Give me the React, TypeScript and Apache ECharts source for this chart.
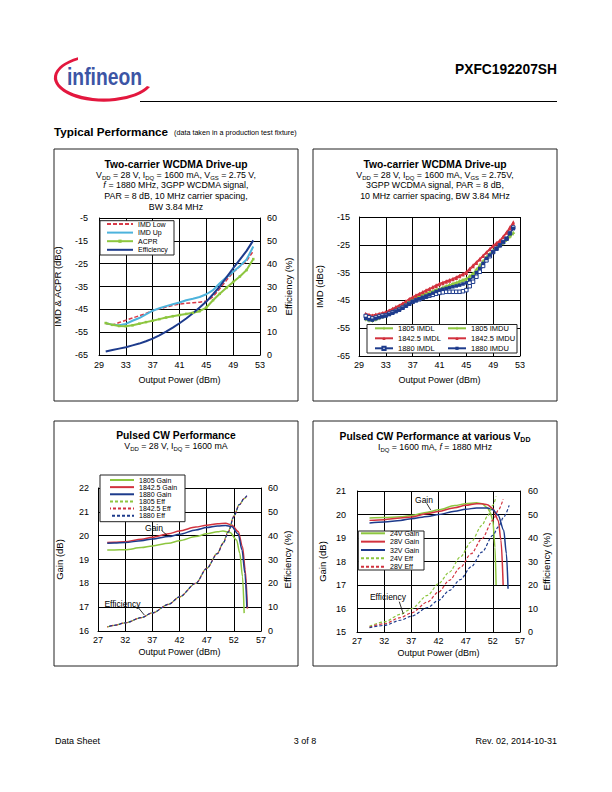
import React, { useEffect, useRef } from 'react';
import * as echarts from 'echarts';

const FONT = '"Liberation Sans", Arial, Helvetica, sans-serif';
const GREEN = '#8dc63f';
const RED = '#d2323e';
const NAVY = '#1d3b8c';
const LBLUE = '#4db3dc';

// ---------- Chart 1: Two-carrier WCDMA Drive-up ----------
const c1X = [30, 31, 32, 33, 34, 35, 36, 37, 38, 39, 40, 41, 42, 43, 44, 45, 46, 47, 48, 49, 50, 51, 52];
const c1ImdLow = [-51.2, -51.8, -50.8, -49.8, -48.8, -47.8, -46.8, -45.6, -44.8, -44.0, -43.3, -42.7, -42.3, -42.1, -41.9, -41.4, -39.5, -36.0, -32.3, -28.8, -26.2, -23.8, -19.5];
const c1ImdUp = [-51.0, -51.8, -52.0, -51.4, -50.0, -48.8, -47.2, -45.6, -44.5, -43.6, -42.8, -42.0, -41.0, -40.4, -39.6, -38.4, -36.6, -33.6, -31.0, -28.5, -26.0, -23.2, -17.5];
const c1Acpr = [-51.0, -51.8, -52.3, -52.4, -52.0, -51.3, -50.6, -50.0, -49.3, -48.6, -48.0, -47.5, -47.0, -46.5, -45.8, -44.2, -41.0, -38.2, -35.6, -33.0, -30.6, -27.8, -23.0];
const c1Eff = [1.5, 2.2, 2.8, 3.4, 4.2, 5.0, 6.0, 7.2, 8.6, 10.2, 12.0, 13.9, 16.0, 18.3, 20.8, 23.4, 26.6, 30.0, 34.0, 38.0, 41.8, 45.6, 50.2];

// ---------- Chart 2: IMD vs frequency ----------
const c2X = [30, 30.5, 31, 31.5, 32, 32.5, 33, 33.5, 34, 34.5, 35, 35.5, 36, 36.5, 37, 37.5, 38, 38.5, 39, 39.5, 40, 40.5, 41, 41.5, 42, 42.5, 43, 43.5, 44, 44.5, 45, 45.5, 46, 46.5, 47, 47.5, 48, 48.5, 49, 49.5, 50, 50.5, 51, 51.5, 52];
const c2Imdl1805 = [-51.5, -51.9, -52.1, -51.7, -51.2, -50.8, -50.3, -49.6, -48.9, -48.2, -47.5, -46.7, -45.9, -45.1, -44.3, -43.8, -43.4, -42.9, -42.5, -42.0, -41.6, -41.1, -40.7, -40.3, -39.8, -39.4, -38.9, -38.5, -38.0, -37.6, -37.1, -36.2, -35.3, -33.8, -32.3, -30.8, -29.4, -28.2, -27.0, -26.1, -25.2, -24.1, -23.1, -21.9, -20.7];
const c2Imdu1805 = [-51.9, -52.3, -52.4, -52.0, -51.5, -51.0, -50.5, -49.8, -49.1, -48.4, -47.7, -46.9, -46.0, -45.2, -44.5, -44.0, -43.5, -43.0, -42.6, -42.2, -41.8, -41.4, -41.0, -40.6, -40.2, -39.8, -39.4, -39.0, -38.6, -38.1, -37.6, -36.7, -35.7, -34.3, -32.8, -31.3, -29.9, -28.6, -27.4, -26.5, -25.6, -24.5, -23.4, -22.2, -21.0];
const c2Imdl1842 = [-49.7, -50.1, -50.3, -50.0, -49.7, -49.4, -49.1, -48.5, -47.9, -47.3, -46.7, -46.0, -45.2, -44.4, -43.7, -43.1, -42.5, -41.9, -41.3, -40.7, -40.1, -39.5, -38.9, -38.5, -38.0, -37.6, -37.1, -36.6, -36.0, -35.4, -34.7, -33.5, -32.3, -31.2, -30.0, -28.8, -27.6, -26.4, -25.2, -24.3, -23.4, -21.9, -20.4, -18.6, -16.8];
const c2Imdu1842 = [-50.2, -50.6, -50.8, -50.5, -50.1, -49.8, -49.4, -48.8, -48.1, -47.5, -46.9, -46.2, -45.4, -44.6, -44.0, -43.4, -42.8, -42.2, -41.6, -41.0, -40.4, -39.9, -39.3, -38.9, -38.4, -38.0, -37.5, -37.0, -36.4, -35.8, -35.2, -34.0, -32.8, -31.6, -30.4, -29.1, -27.9, -26.7, -25.6, -24.7, -23.8, -22.3, -20.8, -19.2, -17.4];
const c2Imdl1880 = [-50.6, -51.1, -51.5, -51.2, -50.8, -50.5, -50.3, -49.8, -49.3, -48.8, -48.3, -47.6, -46.9, -46.2, -45.5, -45.0, -44.6, -44.1, -43.7, -43.3, -43.0, -42.6, -42.3, -42.1, -41.9, -41.9, -41.9, -41.9, -41.9, -41.7, -41.3, -39.9, -38.3, -36.5, -34.7, -32.6, -30.6, -29.1, -27.6, -26.4, -25.2, -24.0, -22.8, -20.8, -18.8];
const c2Imdu1880 = [-51.5, -51.9, -52.1, -51.6, -51.2, -50.9, -50.6, -50.1, -49.6, -49.0, -48.5, -47.8, -47.0, -46.3, -45.5, -45.0, -44.5, -44.0, -43.5, -43.0, -42.4, -41.8, -41.3, -41.0, -40.7, -40.4, -40.1, -39.8, -39.5, -39.1, -38.7, -37.6, -36.5, -35.0, -33.5, -31.7, -29.9, -28.7, -27.6, -26.4, -25.2, -24.0, -22.8, -21.0, -19.2];

// ---------- Chart 3: Pulsed CW Performance ----------
const c3G1805X = [28.7, 30, 32, 35, 37, 40, 42, 45, 47, 49, 50, 51.3, 52.5, 53.1, 53.6, 53.9];
const c3G1805 = [19.40, 19.40, 19.41, 19.50, 19.57, 19.68, 19.79, 19.96, 20.08, 20.16, 20.20, 20.13, 19.82, 19.26, 18.28, 16.75];
const c3G1842X = [28.7, 30, 32, 35, 37, 40, 42, 45, 47, 49, 50.5, 51.6, 52.8, 53.6, 54.1, 54.5];
const c3G1842 = [19.71, 19.72, 19.75, 19.85, 19.93, 20.08, 20.20, 20.36, 20.44, 20.50, 20.52, 20.45, 20.17, 19.54, 18.56, 16.94];
const c3G1880X = [28.7, 30, 32, 35, 37, 40, 42, 45, 47, 49, 50.5, 51.6, 52.8, 53.5, 54.05, 54.4];
const c3G1880 = [19.68, 19.69, 19.71, 19.79, 19.86, 19.96, 20.06, 20.24, 20.34, 20.41, 20.43, 20.38, 20.07, 19.40, 18.42, 17.0];
const c3EffX = [28.7, 30, 32, 35, 37, 40, 42, 45, 47, 49, 50, 51, 52, 53, 54, 54.4];
const c3E1805 = [1.7, 2.4, 3.4, 5.6, 7.6, 11.2, 14.3, 20.0, 26.3, 32.7, 37.0, 42.0, 48.3, 53.1, 55.6, 56.2];
const c3E1842 = [1.7, 2.4, 3.4, 5.6, 7.6, 11.2, 14.3, 20.0, 26.3, 32.6, 36.8, 41.7, 48.1, 53.0, 55.8, 56.6];
const c3E1880 = [1.7, 2.4, 3.4, 5.6, 7.6, 11.2, 14.3, 20.0, 26.2, 32.5, 36.7, 41.6, 48.0, 53.0, 55.9, 56.8];

// ---------- Chart 4: Pulsed CW at various VDD ----------
const c4G24X = [29.3, 32, 35, 37, 40, 42, 45, 47, 49, 50, 51, 51.5, 52, 52.4, 52.6];
const c4G24 = [19.85, 19.87, 19.90, 19.96, 20.10, 20.20, 20.38, 20.46, 20.50, 20.46, 20.29, 20.10, 19.75, 18.60, 17.0];
const c4G28X = [29.3, 32, 35, 37, 40, 42, 45, 47, 49, 50, 51, 52, 53, 53.5, 53.9];
const c4G28 = [19.75, 19.78, 19.85, 19.89, 20.04, 20.13, 20.29, 20.39, 20.46, 20.46, 20.42, 20.25, 19.75, 18.90, 17.0];
const c4G32X = [29.3, 32, 35, 37, 40, 42, 45, 47, 49, 51, 52, 53, 54, 54.5, 54.8];
const c4G32 = [19.64, 19.68, 19.75, 19.82, 19.92, 20.00, 20.14, 20.22, 20.28, 20.28, 20.20, 19.96, 19.33, 18.33, 16.84];
const c4E24X = [29.3, 32, 35, 37, 40, 42, 44, 46, 48, 50, 51, 52, 52.6];
const c4E24 = [2.4, 4.3, 7.5, 9.9, 15.6, 20.6, 25.5, 31.9, 38.3, 45.4, 49.2, 53.9, 57.7];
const c4E28X = [29.3, 32, 35, 37, 40, 42, 44, 46, 48, 50, 52, 53, 53.9];
const c4E28 = [2.1, 3.5, 6.1, 8.1, 12.8, 17.0, 22.0, 27.4, 33.3, 39.7, 47.5, 51.8, 56.5];
const c4E32X = [29.3, 32, 35, 37, 40, 42, 44, 46, 48, 50, 52, 53, 54, 55.0];
const c4E32 = [1.8, 2.8, 5.0, 6.7, 10.4, 13.5, 17.7, 22.3, 27.7, 34.0, 41.1, 44.7, 48.9, 53.9];

echarts.graphic.registerShape(
  'swoosh',
  echarts.graphic.extendPath('M 78 57.2 A 50 24 0 1 0 150 87 L 147 86 A 47 21 0 1 1 78 60 Z', {})
);

const pairs = (xs: number[], ys: number[]) => xs.map((x, i) => [x, ys[i]]);

function xAx(gi: number, min: number, max: number, interval: number, margin: number, nameGap: number) {
  return {
    type: 'value', gridIndex: gi, min, max, interval,
    name: 'Output Power (dBm)', nameLocation: 'middle', nameGap,
    nameTextStyle: { color: '#000', fontSize: 9, fontFamily: FONT },
    axisLine: { show: true, onZero: false, lineStyle: { color: '#000', width: 1 } },
    axisTick: { show: false },
    axisLabel: { color: '#000', fontSize: 9, fontFamily: FONT, margin },
    splitLine: { show: true, lineStyle: { color: '#000', width: 1 } },
  };
}

function yAx(gi: number, min: number, max: number, interval: number, name: string, nameGap: number, margin: number, position: string, split: boolean) {
  return {
    type: 'value', gridIndex: gi, min, max, interval, position,
    name, nameLocation: 'middle', nameGap,
    nameTextStyle: { color: '#000', fontSize: 9.5, fontFamily: FONT },
    axisLine: { show: true, onZero: false, lineStyle: { color: '#000', width: 1 } },
    axisTick: { show: false },
    axisLabel: { color: '#000', fontSize: 9, fontFamily: FONT, margin },
    splitLine: { show: split, lineStyle: { color: '#000', width: 1 } },
  };
}

function ln(name: string, xi: number, yi: number, xs: number[], ys: number[], color: string, extra: any = {}) {
  const { lineStyle, ...rest } = extra;
  return {
    type: 'line', name, xAxisIndex: xi, yAxisIndex: yi,
    data: pairs(xs, ys), symbol: 'none', silent: true,
    lineStyle: { color, width: 1.5, ...(lineStyle || {}) },
    itemStyle: { color },
    ...rest,
  };
}

const T = (text: string, x: number, y: number, size: number, extra: any = {}) => ({
  type: 'text', silent: true, z: 10,
  style: {
    text, x, y, fill: '#000', fontSize: size, fontFamily: FONT,
    align: 'center', verticalAlign: 'middle', ...extra,
  },
});

const subRich = (size: number, bold = false) => ({
  s: { fontSize: size * 0.68, fontFamily: FONT, fill: '#000', fontWeight: bold ? 'bold' : 'normal', verticalAlign: 'bottom', lineHeight: size * 0.66 },
  i: { fontSize: size, fontFamily: FONT, fill: '#000', fontStyle: 'italic', lineHeight: size * 1.4 },
});

const sub = (text: string, x: number, y: number, size: number, bold = false) =>
  T(text, x, y, size, { rich: subRich(size, bold), lineHeight: size * 1.4, fontWeight: bold ? 'bold' : 'normal' });

const L = (x1: number, y1: number, x2: number, y2: number, w = 1, color = '#000') => ({
  type: 'line', silent: true, z: 10, shape: { x1, y1, x2, y2 }, style: { stroke: color, lineWidth: w },
});

const box = (x: number, y: number, w: number, h: number, fill = 'none', z = 10) => ({
  type: 'rect', silent: true, z, shape: { x, y, width: w, height: h },
  style: { fill, stroke: '#222', lineWidth: 1 },
});

// legend entry without a marker (line only)
const noMark = (name: string) => ({ name, itemStyle: { opacity: 0 } });

const legendBase = (data: any[], left: number, top: number, itemWidth: number, itemHeight: number, fontSize: number, lineHeight: number, itemGap: number) => ({
  show: true, data, orient: 'vertical', left, top, padding: 0, itemGap, itemWidth, itemHeight,
  selectedMode: false, z: 20,
  textStyle: { color: '#000', fontSize, fontFamily: FONT, lineHeight, padding: 0 },
});

export default function App() {
  const ref = useRef<HTMLDivElement>(null);
  useEffect(() => {
    if (!ref.current) return;
    const chart = echarts.init(ref.current, null, { renderer: 'svg' });
    const plus = 'path://M3,0h2v3h3v2h-3v3h-2v-3h-3v-2h3z';
    const option: any = {
      animation: false,
      backgroundColor: '#fff',
      grid: [
        { left: 99, top: 218, width: 161, height: 137 },
        { left: 359, top: 217, width: 161, height: 139 },
        { left: 98, top: 488, width: 163, height: 143 },
        { left: 357, top: 491, width: 163, height: 141 },
      ],
      xAxis: [
        xAx(0, 29, 53, 4, 5.5, 20.5),
        xAx(1, 29, 53, 4, 4.5, 19.5),
        xAx(2, 27, 57, 5, 4.5, 16.5),
        xAx(3, 27, 57, 5, 4, 16.5),
      ],
      yAxis: [
        yAx(0, -65, -5, 10, 'IMD & ACPR (dBc)', 36.5, 11, 'left', true),
        yAx(0, 0, 60, 10, 'Efficiency (%)', 23.5, 7, 'right', false),
        yAx(1, -65, -15, 10, 'IMD (dBc)', 35, 9, 'left', true),
        yAx(2, 16, 22, 1, 'Gain (dB)', 33.5, 9, 'left', true),
        yAx(2, 0, 60, 10, 'Efficiency (%)', 21.5, 7, 'right', false),
        yAx(3, 15, 21, 1, 'Gain (dB)', 29.5, 11, 'left', true),
        yAx(3, 0, 60, 10, 'Efficiency (%)', 20.5, 8, 'right', false),
      ],
      legend: [
        legendBase([noMark('IMD Low'), noMark('IMD Up'), 'ACPR', noMark('Efficiency')], 106, 220, 26, 4, 7, 8, 0.6),
        legendBase(['1805 IMDL', '1842.5 IMDL', '1880 IMDL'], 374, 324.3, 18, 4, 7.5, 8, 2),
        legendBase(['1805 IMDU', '1842.5 IMDU', '1880 IMDU'], 447, 324.3, 18, 4, 7.5, 8, 2),
        legendBase(['1805 Gain', '1842.5 Gain', '1880 Gain', '1805 Eff', '1842.5 Eff', '1880 Eff'].map(noMark), 109, 476.5, 24, 4, 7, 7, 0.14),
        legendBase(['24V Gain', '28V Gain', '32V Gain', '24V Eff', '28V Eff'].map(noMark), 360, 529.3, 24, 4, 7, 8, 0.35),
      ],
      series: [
        // chart 1
        ln('IMD Low', 0, 0, c1X, c1ImdLow, '#d83a48', { lineStyle: { type: [4, 2], width: 1.5 } }),
        ln('IMD Up', 0, 0, c1X, c1ImdUp, LBLUE, { lineStyle: { width: 2 } }),
        ln('ACPR', 0, 0, c1X, c1Acpr, GREEN, { symbol: 'rect', symbolSize: 2.5, lineStyle: { width: 2 } }),
        ln('Efficiency', 0, 1, c1X, c1Eff, NAVY, { lineStyle: { width: 2 } }),
        // chart 2
        ln('1805 IMDL', 1, 2, c2X, c2Imdl1805, GREEN, { symbol: plus, symbolSize: 3.5, lineStyle: { width: 1.2 } }),
        ln('1805 IMDU', 1, 2, c2X, c2Imdu1805, GREEN, { symbol: plus, symbolSize: 3.5, lineStyle: { width: 1.2 } }),
        ln('1842.5 IMDL', 1, 2, c2X, c2Imdl1842, RED, { symbol: 'triangle', symbolSize: 3.5, lineStyle: { width: 1.2 } }),
        ln('1842.5 IMDU', 1, 2, c2X, c2Imdu1842, RED, { symbol: 'triangle', symbolSize: 3.5, lineStyle: { width: 1.2 } }),
        ln('1880 IMDL', 1, 2, c2X, c2Imdl1880, NAVY, { symbol: 'rect', symbolSize: 3.5, itemStyle: { color: '#fff', borderColor: NAVY, borderWidth: 1 }, lineStyle: { width: 1.2 } }),
        ln('1880 IMDU', 1, 2, c2X, c2Imdu1880, NAVY, { symbol: 'rect', symbolSize: 3.5, lineStyle: { width: 1.2 } }),
        // chart 3
        ln('1805 Gain', 2, 3, c3G1805X, c3G1805, GREEN, { smooth: 0.3, smoothMonotone: 'x' }),
        ln('1842.5 Gain', 2, 3, c3G1842X, c3G1842, RED, { smooth: 0.3, smoothMonotone: 'x' }),
        ln('1880 Gain', 2, 3, c3G1880X, c3G1880, NAVY, { smooth: 0.3, smoothMonotone: 'x' }),
        ln('1805 Eff', 2, 4, c3EffX, c3E1805, GREEN, { smooth: 0.3, smoothMonotone: 'x', lineStyle: { type: [3, 2], width: 1.2 } }),
        ln('1842.5 Eff', 2, 4, c3EffX, c3E1842, RED, { smooth: 0.3, smoothMonotone: 'x', lineStyle: { type: [3, 2], width: 1.2, dashOffset: 1.7 } }),
        ln('1880 Eff', 2, 4, c3EffX, c3E1880, NAVY, { smooth: 0.3, smoothMonotone: 'x', lineStyle: { type: [3, 2], width: 1.2, dashOffset: 3.3 } }),
        // chart 4
        ln('24V Gain', 3, 5, c4G24X, c4G24, GREEN, { smooth: 0.3, smoothMonotone: 'x' }),
        ln('28V Gain', 3, 5, c4G28X, c4G28, RED, { smooth: 0.3, smoothMonotone: 'x' }),
        ln('32V Gain', 3, 5, c4G32X, c4G32, NAVY, { smooth: 0.3, smoothMonotone: 'x' }),
        ln('24V Eff', 3, 6, c4E24X, c4E24, GREEN, { smooth: 0.3, smoothMonotone: 'x', lineStyle: { type: [3, 2], width: 1.2 } }),
        ln('28V Eff', 3, 6, c4E28X, c4E28, RED, { smooth: 0.3, smoothMonotone: 'x', lineStyle: { type: [3, 2], width: 1.2 } }),
        ln('32V Eff', 3, 6, c4E32X, c4E32, NAVY, { smooth: 0.3, smoothMonotone: 'x', lineStyle: { type: [3, 2], width: 1.2 } }),
      ],
      graphic: {
        elements: [
          // header
          { type: 'swoosh', silent: true, z: 10, style: { fill: '#e3173e' } },
          { type: 'text', silent: true, z: 11, x: 67, y: 77, scaleX: 0.84,
            style: { text: 'infineon', x: 0, y: 0, fill: '#3c55a5', fontSize: 23, fontWeight: 'bold', fontFamily: FONT, align: 'left', verticalAlign: 'middle' } },
          T('PXFC192207SH', 557, 69, 13.8, { align: 'right', fontWeight: 'bold' }),
          L(140, 101.5, 557, 101.5),
          T('Typical Performance', 54, 131, 11.7, { align: 'left', fontWeight: 'bold' }),
          T('(data taken in a production test fixture)', 174, 132, 7.2, { align: 'left' }),
          // panels
          box(54, 149, 244, 252),
          box(313, 149, 244, 252),
          box(54, 421, 244, 245),
          box(313, 421, 244, 245),
          // chart 1 titles
          T('Two-carrier WCDMA Drive-up', 176, 164.5, 10.3, { fontWeight: 'bold' }),
          sub('V{s|DD} = 28 V, I{s|DQ} = 1600 mA, V{s|GS} = 2.75 V,', 176, 174.5, 8.8),
          sub('{i|f} = 1880 MHz, 3GPP WCDMA signal,', 176, 185.3, 8.8),
          T('PAR = 8 dB, 10 MHz carrier spacing,', 176, 196.3, 8.8),
          T('BW 3.84 MHz', 176, 207.3, 8.8),
          // chart 2 titles
          T('Two-carrier WCDMA Drive-up', 435, 164, 10.3, { fontWeight: 'bold' }),
          sub('V{s|DD} = 28 V, I{s|DQ} = 1600 mA, V{s|GS} = 2.75V,', 435, 174.5, 8.8),
          T('3GPP WCDMA signal, PAR = 8 dB,', 435, 185.3, 8.8),
          T('10 MHz carrier spacing, BW 3.84 MHz', 435, 196.2, 8.8),
          // chart 3 titles
          T('Pulsed CW Performance', 176, 435, 10.3, { fontWeight: 'bold' }),
          sub('V{s|DD} = 28 V, I{s|DQ} = 1600 mA', 176, 446, 8.8),
          // chart 4 titles
          sub('Pulsed CW Performance at various V{s|DD}', 435, 436, 10.3, true),
          sub('I{s|DQ} = 1600 mA, {i|f} = 1880 MHz', 435, 447, 8.8),
          // legend boxes
          box(100, 220.7, 74, 34.3, '#fff', 15),
          box(367, 324.5, 150, 28.5, '#fff', 15),
          box(100, 475, 85, 46.7, '#fff', 15),
          box(358.3, 531, 65.7, 39, '#fff', 15),
          // annotations chart 3
          T('Gain', 154, 528.3, 8.5),
          L(161.7, 530.5, 167.3, 535.5, 0.8),
          T('Efficiency', 122.5, 604, 8.5),
          L(137.5, 606.7, 144.3, 615, 0.8),
          // annotations chart 4
          T('Gain', 424, 500, 8.5),
          L(426.7, 503.3, 430.7, 510, 0.8),
          T('Efficiency', 388, 596.7, 8.5),
          L(399.3, 601.7, 403.3, 614, 0.8),
          // footer
          T('Data Sheet', 55, 741, 9, { align: 'left' }),
          T('3 of 8', 305, 741, 9),
          T('Rev. 02, 2014-10-31', 557, 741, 9, { align: 'right' }),
        ],
      },
    };
    chart.setOption(option);
    return () => chart.dispose();
  }, []);
  return (
    <div
      ref={ref}
      style={{ position: 'absolute', left: 0, top: 0, width: 612, height: 792, background: '#fff' }}
    />
  );
}
